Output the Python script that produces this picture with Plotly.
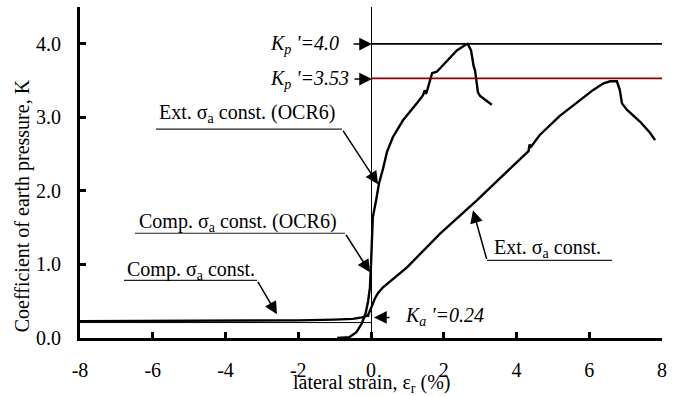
import plotly.graph_objects as go

# Lateral strain (%) and coefficient of earth pressure K for each test path
comp_x = [-8.0, -6.0, -4.0, -2.0, -1.0, -0.5, -0.25, -0.1, -0.05]
comp_k = [0.23, 0.23, 0.235, 0.24, 0.25, 0.26, 0.28, 0.30, 0.31]

comp_init_x = [-8.0, -4.0, -1.0, 0.0]
comp_init_k = [0.21, 0.21, 0.21, 0.21]

comp_ocr6_x = [0.0, -0.01, -0.03, -0.08, -0.15, -0.25, -0.4, -0.6, -0.93]
comp_ocr6_k = [1.0, 0.85, 0.68, 0.50, 0.33, 0.20, 0.08, 0.01, 0.0]

ext_ocr6_x = [0.0, 0.02, 0.05, 0.14, 0.22, 0.33, 0.44, 0.60, 0.88, 1.26, 1.43, 1.48,
              1.50, 1.53, 1.62, 1.68, 1.81, 1.98, 2.17, 2.36, 2.58, 2.66, 2.75, 2.80,
              2.82, 2.86, 2.91, 2.94, 3.00, 3.08, 3.20, 3.32]
ext_ocr6_k = [1.0, 1.3, 1.64, 1.87, 2.10, 2.30, 2.53, 2.73, 2.96, 3.19, 3.30, 3.37,
              3.32, 3.34, 3.48, 3.60, 3.62, 3.71, 3.82, 3.91, 3.98, 4.0, 3.91, 3.74,
              3.70, 3.64, 3.41, 3.34, 3.29, 3.26, 3.21, 3.17]

ext_x = [-0.1, -0.03, 0.03, 0.1, 0.19, 0.33, 0.52, 0.99, 1.9, 2.91, 3.5, 4.0, 4.33,
         4.36, 4.40, 4.64, 5.19, 5.74, 6.10, 6.38, 6.57, 6.76, 6.84, 6.90, 7.04,
         7.40, 7.67, 7.81]
ext_k = [0.29, 0.36, 0.44, 0.53, 0.61, 0.69, 0.77, 0.96, 1.42, 1.87, 2.15, 2.38, 2.54,
         2.63, 2.60, 2.76, 3.02, 3.23, 3.37, 3.46, 3.49, 3.49, 3.37, 3.19, 3.10,
         2.94, 2.79, 2.69]

KP_PEAK = 4.0
KP_RES = 3.53
KA = 0.24
KP_LINE_X = [0.0, 8.0]

x_ticks = [-8, -6, -4, -2, 0, 2, 4, 6, 8]
y_ticks = [0.0, 1.0, 2.0, 3.0, 4.0]

FONT = "Liberation Serif"
FS = 20

W, H = 679, 396
L, R, T, B = 80, 17, 7, 58.4
X0, X1 = -8.0, 8.0
Y0, Y1 = 0.0, 4.5


def dx(px):
    return X0 + (px - L) / (W - L - R) * (X1 - X0)


def dy(py):
    return Y0 + (H - B - py) / (H - T - B) * (Y1 - Y0)


fig = go.Figure()

line_style = dict(color="black", width=2.4)
fig.add_trace(go.Scatter(x=comp_init_x, y=comp_init_k, mode="lines",
                         line=dict(color="black", width=1)))
fig.add_trace(go.Scatter(x=comp_x, y=comp_k, mode="lines", line=line_style))
fig.add_trace(go.Scatter(x=comp_ocr6_x, y=comp_ocr6_k, mode="lines", line=line_style))
fig.add_trace(go.Scatter(x=ext_ocr6_x, y=ext_ocr6_k, mode="lines", line=line_style))
fig.add_trace(go.Scatter(x=ext_x, y=ext_k, mode="lines", line=line_style))
fig.add_trace(go.Scatter(x=KP_LINE_X, y=[KP_PEAK] * 2, mode="lines",
                         line=dict(color="black", width=1.8)))
fig.add_trace(go.Scatter(x=KP_LINE_X, y=[KP_RES] * 2, mode="lines",
                         line=dict(color="#8b0000", width=1.8)))

annotations = []
shapes = []


def label(text, left_px, cy_px):
    annotations.append(dict(
        x=dx(left_px), y=dy(cy_px), xref="x", yref="y", text=text,
        showarrow=False, xanchor="left", yanchor="middle",
        font=dict(family=FONT, size=FS, color="black")))


def arrow(x_from, y_from, x_to, y_to):
    annotations.append(dict(
        x=dx(x_to), y=dy(y_to), ax=dx(x_from), ay=dy(y_from),
        xref="x", yref="y", axref="x", ayref="y", text="",
        showarrow=True, arrowhead=2, arrowsize=1.7, arrowwidth=1.5,
        arrowcolor="black", standoff=0))


def underline(x_a, x_b, y):
    shapes.append(dict(type="line", xref="x", yref="y",
                       x0=dx(x_a), x1=dx(x_b), y0=dy(y), y1=dy(y),
                       line=dict(color="#222222", width=1.2)))


label("<i>K<sub>p</sub> '=%.1f</i>" % KP_PEAK, 268, 44)
arrow(352, 44, 372, 44)
label("<i>K<sub>p</sub> '=%.2f</i>" % KP_RES, 268, 79)
arrow(353, 79, 372, 79)

label("Ext. σ<sub>a</sub> const. (OCR6)", 157, 113)
underline(156, 342, 129)
arrow(342, 129, 378, 184)

label("Comp. σ<sub>a</sub> const. (OCR6)", 137, 222)
underline(135, 345, 233)
arrow(345, 233, 370, 272)

label("Comp. σ<sub>a</sub> const.", 125, 270)
underline(124, 257, 280)
arrow(257, 280, 277, 314)

label("Ext. σ<sub>a</sub> const.", 492, 248)
underline(487, 612, 260)
arrow(487, 260, 473, 210)

label("<i>K<sub>a</sub> '=%.2f</i>" % KA, 403, 316)
arrow(391, 317, 374, 317)

# axis titles
annotations.append(dict(
    x=(371 - L) / (W - L - R), y=(H - B - 383) / (H - T - B),
    xref="paper", yref="paper", text="lateral strain, ε<sub>r</sub> (%)",
    showarrow=False, xanchor="center", yanchor="middle",
    font=dict(family=FONT, size=FS, color="black")))
annotations.append(dict(
    x=(22 - L) / (W - L - R), y=(H - B - 206) / (H - T - B),
    xref="paper", yref="paper", text="Coefficient of earth pressure, K",
    showarrow=False, textangle=-90, xanchor="center", yanchor="middle",
    font=dict(family=FONT, size=FS, color="black")))

fig.update_layout(
    width=W, height=H,
    margin=dict(l=L, r=R, t=T, b=B),
    paper_bgcolor="white", plot_bgcolor="white",
    showlegend=False,
    font=dict(family=FONT, size=FS, color="black"),
    annotations=annotations, shapes=shapes,
    xaxis=dict(range=[X0, X1], tickvals=x_ticks, ticktext=[str(v) for v in x_ticks],
               showgrid=False, showline=True, linecolor="black", linewidth=3,
               ticks="inside", ticklen=6, tickwidth=2.5, tickcolor="black",
               zeroline=True, zerolinecolor="black", zerolinewidth=1,
               ticklabelstandoff=12,
               tickfont=dict(family=FONT, size=FS, color="black")),
    yaxis=dict(range=[Y0, Y1], tickvals=y_ticks,
               ticktext=["%.1f" % v for v in y_ticks],
               showgrid=False, showline=True, linecolor="black", linewidth=3,
               ticks="inside", ticklen=6, tickwidth=2.5, tickcolor="black",
               zeroline=False, ticklabelstandoff=12,
               tickfont=dict(family=FONT, size=FS, color="black")),
)

fig.write_html("out.html")
